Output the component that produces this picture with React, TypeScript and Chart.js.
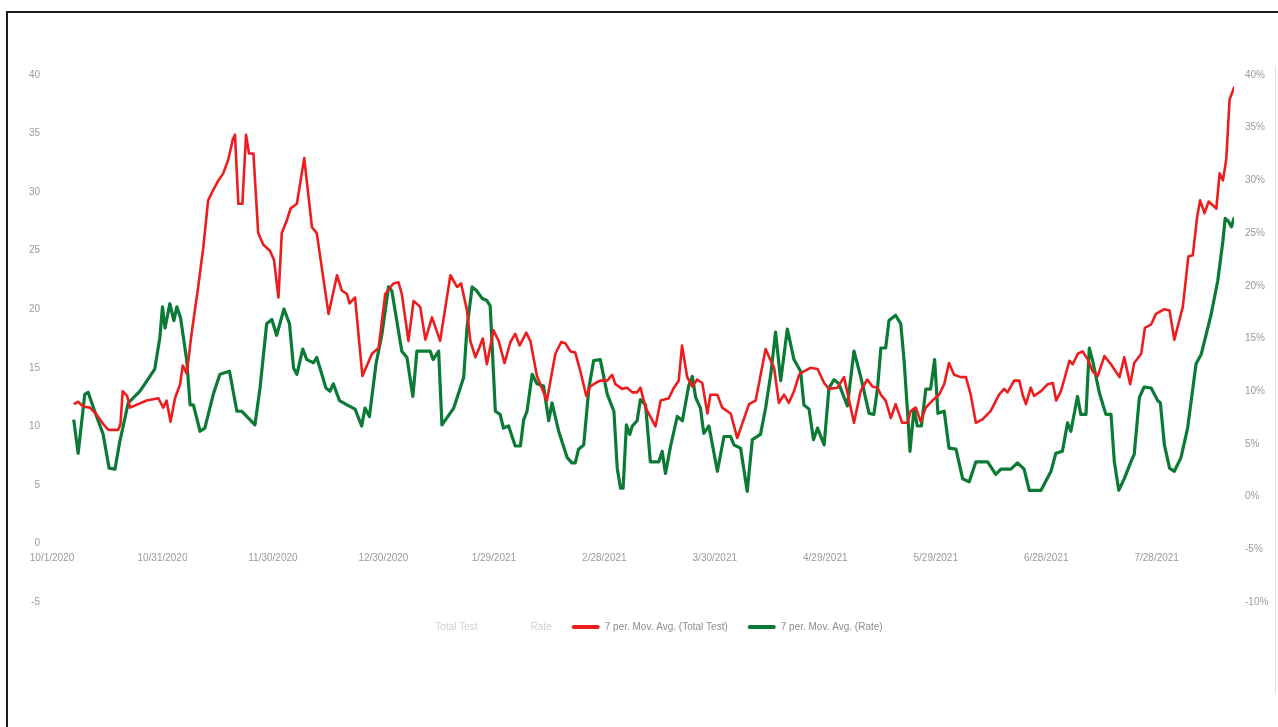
import React, { useEffect, useRef } from "react";
import Chart from "chart.js/auto";

// Day offsets are counted from 10/1/2020 (day 0).
const tickDays = [0, 30, 60, 90, 120, 150, 180, 210, 240, 270, 300];
const tickLabels = [
  "10/1/2020", "10/31/2020", "11/30/2020", "12/30/2020", "1/29/2021", "2/28/2021",
  "3/30/2021", "4/29/2021", "5/29/2021", "6/28/2021", "7/28/2021",
];
const lastDay = 321;

const legendNames = ["Total Test", "Rate", "7 per. Mov. Avg. (Total Test)", "7 per. Mov. Avg. (Rate)"];

// 7-period moving average of total tests (left axis)
const testAvgDays = [
  5.9, 7.1, 8.5, 10.3, 12.1, 13.9, 15.3, 18.0, 18.6, 19.2,
  20.4, 21.2, 25.7, 28.9, 30.2, 31.1, 32.2, 33.4, 34.8, 35.5,
  36.6, 37.9, 39.7, 41.1, 42.4, 43.8, 45.2, 46.5, 47.9, 49.1,
  49.7, 50.6, 51.7, 52.7, 53.5, 54.7, 56.0, 57.4, 59.2, 60.3,
  61.5, 62.4, 63.8, 64.8, 66.5, 68.5, 70.6, 71.9, 75.1, 77.4,
  78.7, 80.1, 80.8, 82.3, 84.3, 86.9, 88.7, 90.5, 92.7, 94.1,
  95.0, 96.8, 98.2, 100.0, 101.4, 103.2, 105.4, 108.2, 110.0, 111.1,
  112.7, 113.6, 115.0, 115.9, 117.0, 118.1, 119.9, 121.3, 122.9, 124.5,
  125.8, 127.0, 128.8, 129.9, 131.7, 134.4, 136.7, 138.3, 139.4, 140.8,
  142.1, 143.5, 145.1, 146.2, 147.6, 148.9, 150.8, 152.1, 153.0, 154.8,
  156.2, 157.6, 158.9, 159.8, 161.2, 163.9, 165.3, 167.5, 168.9, 170.2,
  171.1, 172.5, 173.9, 175.2, 176.6, 178.0, 178.8, 180.7, 182.0, 184.3,
  186.1, 189.3, 191.1, 193.8, 195.2, 196.1, 197.4, 198.8, 200.1, 201.5,
  202.9, 204.2, 206.0, 207.9, 209.7, 211.0, 213.3, 215.1, 217.8, 219.6,
  221.4, 222.8, 224.2, 225.1, 226.4, 227.8, 229.1, 230.9, 232.3, 233.2,
  234.6, 235.9, 237.3, 239.1, 240.9, 242.3, 243.6, 245.0, 246.8, 248.2,
  249.5, 250.9, 252.7, 254.9, 257.2, 258.6, 259.5, 261.3, 262.7, 263.6,
  264.5, 265.8, 266.7, 268.6, 270.4, 271.8, 272.7, 274.0, 274.9, 276.3,
  277.2, 278.6, 279.9, 281.3, 282.6, 284.0, 285.8, 287.6, 289.9, 291.2,
  292.8, 293.9, 295.8, 296.8, 298.5, 299.8, 302.1, 303.5, 304.8, 307.1,
  308.6, 309.8, 311.0, 311.8, 313.0, 314.1, 316.2, 317.1, 318.0, 318.9,
  319.8, 321.1,
];
const testAvgValues = [
  11.9, 12.1, 11.7, 11.6, 11.0, 10.2, 9.7, 9.7, 10.2, 13.0,
  12.6, 11.6, 12.2, 12.4, 11.6, 12.2, 10.4, 12.4, 13.6, 15.2,
  14.5, 17.9, 21.9, 25.3, 29.3, 30.2, 31.0, 31.6, 32.8, 34.5,
  34.9, 29.0, 29.0, 34.9, 33.3, 33.3, 26.5, 25.5, 25.0, 24.2,
  21.0, 26.5, 27.6, 28.6, 29.0, 32.9, 27.0, 26.5, 19.6, 22.9,
  21.6, 21.3, 20.5, 21.0, 14.3, 16.2, 16.7, 21.3, 22.2, 22.3,
  21.3, 17.3, 20.7, 20.2, 17.4, 19.3, 17.3, 22.9, 21.9, 22.2,
  19.9, 17.3, 15.9, 16.6, 17.5, 15.3, 18.2, 17.3, 15.4, 17.2,
  17.9, 16.9, 18.0, 17.3, 14.3, 12.2, 16.2, 17.2, 17.1, 16.4,
  16.3, 14.7, 12.6, 13.4, 13.7, 13.9, 13.9, 14.4, 13.6, 13.2,
  13.3, 12.9, 12.9, 13.3, 11.6, 10.0, 12.2, 12.4, 13.3, 13.9,
  16.9, 14.2, 13.4, 14.0, 13.7, 11.1, 12.7, 12.7, 11.6, 11.1,
  9.0, 11.9, 12.2, 16.6, 15.6, 15.0, 12.0, 12.7, 12.0, 13.0,
  14.4, 14.7, 15.0, 14.9, 13.7, 13.2, 13.3, 14.2, 10.3, 13.0,
  14.0, 13.4, 13.3, 12.7, 12.2, 10.7, 11.9, 10.3, 10.3, 11.3,
  11.6, 10.4, 11.6, 12.2, 12.7, 13.6, 15.4, 14.4, 14.2, 14.2,
  12.7, 10.3, 10.6, 11.3, 12.7, 13.2, 12.9, 13.9, 13.9, 12.7,
  11.9, 13.3, 12.6, 13.0, 13.6, 13.7, 12.2, 13.0, 14.0, 15.6,
  15.3, 16.2, 16.4, 15.7, 14.7, 14.3, 16.0, 15.3, 14.2, 15.9,
  13.6, 15.4, 16.2, 18.4, 18.7, 19.6, 20.0, 19.9, 17.4, 20.2,
  24.5, 24.6, 27.9, 29.3, 28.2, 29.2, 28.6, 31.6, 31.0, 32.8,
  37.9, 39.0,
];

// 7-period moving average of the positivity rate, in percent (right axis)
const rateAvgDays = [
  5.9, 7.1, 8.9, 9.8, 11.6, 13.9, 15.5, 17.1, 18.4, 20.7,
  23.9, 27.9, 29.3, 30.0, 30.7, 32.0, 33.1, 33.9, 34.9, 36.6,
  37.5, 38.4, 40.2, 41.5, 43.8, 45.6, 48.2, 50.2, 51.5, 55.1,
  56.5, 58.3, 59.7, 61.0, 63.0, 64.5, 65.6, 66.5, 68.1, 69.2,
  71.0, 71.9, 74.4, 75.5, 76.4, 78.1, 80.1, 82.3, 84.1, 85.0,
  86.2, 88.0, 89.6, 91.4, 92.3, 95.0, 96.4, 98.0, 99.1, 102.7,
  103.5, 105.0, 105.9, 109.1, 111.8, 112.7, 114.1, 115.4, 116.8, 118.1,
  119.0, 120.4, 121.7, 122.6, 124.0, 125.8, 127.2, 128.1, 129.0, 130.4,
  131.7, 133.5, 134.9, 135.8, 137.6, 139.9, 141.2, 142.1, 143.0, 144.4,
  145.8, 147.1, 148.9, 150.8, 152.6, 153.5, 154.4, 155.1, 156.0, 156.9,
  157.6, 158.9, 159.8, 161.2, 162.5, 164.8, 165.7, 166.6, 168.0, 169.8,
  171.2, 172.9, 173.9, 174.8, 176.1, 177.0, 178.4, 180.7, 182.5, 184.3,
  185.2, 187.0, 188.8, 190.2, 192.4, 193.8, 195.2, 196.5, 197.9, 199.7,
  201.5, 203.3, 204.2, 205.6, 206.8, 207.9, 209.7, 211.0, 212.4, 213.7,
  216.0, 217.8, 219.6, 221.9, 223.2, 224.2, 225.1, 226.4, 227.3, 229.1,
  230.5, 231.4, 232.5, 233.0, 234.1, 235.0, 236.1, 237.3, 238.6, 239.7,
  240.6, 242.3, 243.6, 245.5, 247.3, 249.1, 250.9, 254.1, 256.3, 257.7,
  260.4, 262.2, 264.0, 265.4, 268.6, 271.3, 272.6, 274.4, 275.8, 276.7,
  278.5, 279.4, 280.8, 281.7, 282.6, 284.4, 286.2, 287.6, 288.5, 289.7,
  291.2, 293.0, 293.9, 295.3, 296.6, 298.5, 300.3, 301.0, 302.1, 303.5,
  304.8, 306.6, 308.4, 310.7, 312.1, 314.8, 316.6, 318.0, 318.6, 319.5,
  320.3, 321.1,
];
const rateAvgValues = [
  7.3, 4.1, 9.7, 9.9, 8.1, 5.9, 2.7, 2.6, 5.2, 8.9,
  10.0, 12.1, 15.1, 18.0, 16.0, 18.3, 16.7, 18.0, 17.0, 12.9,
  8.7, 8.7, 6.2, 6.5, 9.7, 11.6, 11.9, 8.1, 8.1, 6.8,
  10.3, 16.4, 16.8, 15.3, 17.8, 16.4, 12.2, 11.6, 14.0, 13.0,
  12.7, 13.2, 10.3, 10.0, 10.7, 9.1, 8.7, 8.3, 6.7, 8.4,
  7.6, 12.6, 15.4, 19.9, 19.5, 13.8, 13.2, 9.5, 13.8, 13.8,
  13.0, 13.8, 6.8, 8.4, 11.3, 16.0, 19.9, 19.5, 18.8, 18.6,
  18.1, 8.1, 7.8, 6.5, 6.7, 4.8, 4.8, 7.3, 8.1, 11.6,
  10.7, 10.5, 7.2, 8.9, 6.2, 3.7, 3.2, 3.2, 4.5, 4.9,
  10.3, 12.9, 13.0, 9.7, 8.1, 2.7, 0.8, 0.8, 6.8, 5.9,
  6.7, 7.2, 9.2, 8.7, 3.3, 3.3, 4.3, 2.2, 4.8, 7.6,
  7.2, 10.5, 11.4, 9.4, 8.4, 6.0, 6.7, 2.4, 5.7, 5.7,
  4.9, 4.6, 0.5, 5.4, 5.9, 8.4, 11.6, 15.6, 11.0, 15.9,
  13.0, 11.9, 8.7, 8.3, 5.4, 6.5, 4.9, 10.3, 11.1, 10.7,
  8.6, 13.8, 11.4, 7.9, 7.8, 10.3, 14.1, 14.1, 16.7, 17.2,
  16.4, 12.9, 7.2, 4.3, 8.3, 6.7, 6.7, 10.2, 10.2, 13.0,
  7.9, 8.1, 4.6, 4.5, 1.7, 1.4, 3.3, 3.3, 2.1, 2.6,
  2.6, 3.2, 2.6, 0.6, 0.6, 2.4, 4.1, 4.3, 7.0, 6.2,
  9.5, 7.8, 7.8, 14.1, 12.9, 9.9, 7.8, 7.8, 3.3, 0.6,
  1.7, 3.3, 4.0, 9.4, 10.4, 10.3, 9.1, 8.9, 4.9, 2.7,
  2.4, 3.7, 6.5, 12.6, 13.5, 17.3, 20.5, 24.3, 26.4, 26.1,
  25.6, 26.5,
];

const RED = "#ee1d1d";
const GREEN = "#0b7a35";
const TEXT = "#9a9a9a";
const FONT = "'Liberation Sans', Arial, sans-serif";

function toPoints(days: number[], values: number[]) {
  const n = Math.min(days.length, values.length);
  const pts: { x: number; y: number }[] = [];
  for (let i = 0; i < n; i++) pts.push({ x: days[i], y: values[i] });
  return pts;
}

export default function App() {
  const canvasRef = useRef<HTMLCanvasElement | null>(null);

  useEffect(() => {
    const canvas = canvasRef.current;
    if (!canvas) return;

    const chart = new Chart(canvas, {
      type: "line",
      data: {
        datasets: [
          { label: legendNames[0], data: [], borderColor: "rgba(0,0,0,0)", backgroundColor: "rgba(0,0,0,0)", yAxisID: "y" },
          { label: legendNames[1], data: [], borderColor: "rgba(0,0,0,0)", backgroundColor: "rgba(0,0,0,0)", yAxisID: "y1" },
          {
            label: legendNames[2],
            data: toPoints(testAvgDays, testAvgValues),
            borderColor: RED,
            backgroundColor: RED,
            borderWidth: 2.6,
            pointRadius: 0,
            tension: 0,
            borderJoinStyle: "round",
            yAxisID: "y",
          },
          {
            label: legendNames[3],
            data: toPoints(rateAvgDays, rateAvgValues),
            borderColor: GREEN,
            backgroundColor: GREEN,
            borderWidth: 3.2,
            pointRadius: 0,
            tension: 0,
            borderJoinStyle: "round",
            yAxisID: "y1",
          },
        ],
      },
      options: {
        responsive: false,
        animation: false,
        events: [],
        layout: { padding: { left: 7, right: 0, top: 75, bottom: 85 } },
        scales: {
          x: {
            type: "linear",
            axis: "x",
            position: { y: 0 },
            min: 0,
            max: lastDay,
            grid: { display: false, drawTicks: false },
            border: { display: false },
            afterBuildTicks: (scale: any) => {
              scale.ticks = tickDays.map((v) => ({ value: v }));
            },
            ticks: {
              autoSkip: false,
              maxRotation: 0,
              padding: 9,
              color: TEXT,
              font: { family: FONT, size: 10 },
              callback: (_v: any, i: number) => tickLabels[i] ?? "",
            },
          },
          y: {
            position: "left",
            min: -5,
            max: 40,
            grid: { display: false, drawTicks: false },
            border: { display: false },
            afterFit: (scale: any) => {
              scale.width = 45;
            },
            ticks: {
              stepSize: 5,
              padding: 12,
              color: TEXT,
              font: { family: FONT, size: 10 },
            },
          },
          y1: {
            position: "right",
            min: -10,
            max: 40,
            grid: { display: false, drawTicks: false },
            border: { display: false },
            afterFit: (scale: any) => {
              scale.width = 44;
            },
            ticks: {
              stepSize: 5,
              padding: 11,
              color: TEXT,
              font: { family: FONT, size: 10 },
              callback: (v: any) => `${v}%`,
            },
          },
        },
        plugins: {
          tooltip: { enabled: false },
          title: { display: false },
          legend: {
            display: true,
            position: "bottom",
            labels: {
              boxWidth: 28,
              boxHeight: 4,
              padding: 20,
              color: TEXT,
              font: { family: FONT, size: 10 },
              generateLabels: (c: any) => {
                const base = Chart.defaults.plugins.legend.labels.generateLabels(c);
                return base.map((item: any, i: number) => ({
                  ...item,
                  fillStyle: i < 2 ? "rgba(0,0,0,0)" : c.data.datasets[i].borderColor,
                  strokeStyle: "rgba(0,0,0,0)",
                  lineWidth: 0,
                  borderRadius: i < 2 ? 0 : 2,
                  fontColor: i < 2 ? "#cfcfcf" : "#8e8e8e",
                }));
              },
            },
          },
        },
      },
    } as any);

    return () => chart.destroy();
  }, []);

  return (
    <div style={{ position: "fixed", inset: 0, background: "#ffffff", overflow: "hidden" }}>
      <div
        style={{
          position: "absolute",
          left: 6,
          top: 11,
          width: 1300,
          height: 740,
          borderLeft: "2px solid #1c1c1c",
          borderTop: "2px solid #1c1c1c",
        }}
      />
      <div
        style={{
          position: "absolute",
          left: 1275,
          top: 66,
          width: 1,
          height: 628,
          background: "#e2e2e2",
        }}
      />
      <canvas ref={canvasRef} width={1278} height={727} style={{ position: "absolute", left: 0, top: 0 }} />
    </div>
  );
}
